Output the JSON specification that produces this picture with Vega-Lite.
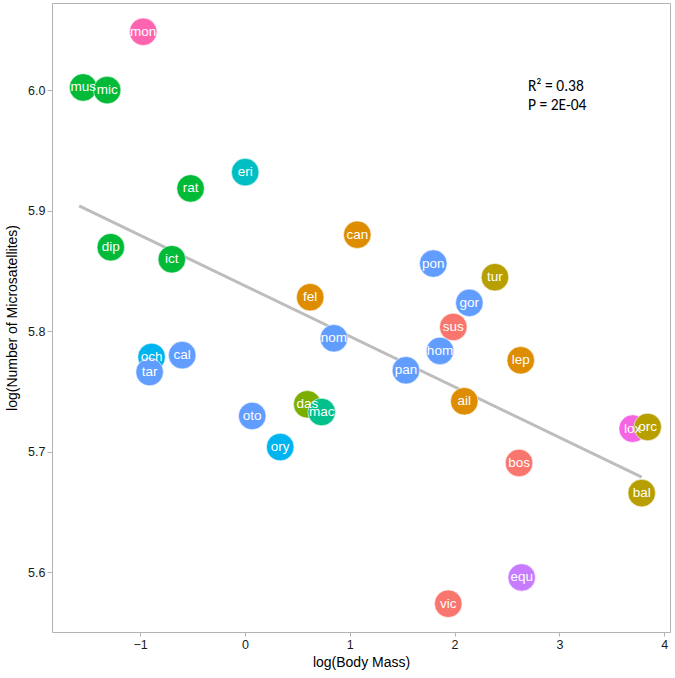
{
  "$schema": "https://vega.github.io/schema/vega-lite/v6.json",
  "width": 618,
  "height": 629,
  "autosize": {"type": "none"},
  "padding": {"left": 52, "top": 3, "right": 5, "bottom": 46},
  "background": "white",
  "config": {
    "view": {"stroke": "#b3b3b3", "strokeWidth": 1},
    "font": "Liberation Sans"
  },
  "datasets": {
    "species": [
      {"sp": "mon", "grp": "Monotremata", "mass": -0.970, "msat": 6.0484},
      {"sp": "mus", "grp": "Rodentia", "mass": -1.543, "msat": 6.0022},
      {"sp": "mic", "grp": "Rodentia", "mass": -1.314, "msat": 6.0000},
      {"sp": "rat", "grp": "Rodentia", "mass": -0.518, "msat": 5.9184},
      {"sp": "eri", "grp": "Eulipotyphla", "mass": 0.003, "msat": 5.9319},
      {"sp": "dip", "grp": "Rodentia", "mass": -1.279, "msat": 5.8696},
      {"sp": "ict", "grp": "Rodentia", "mass": -0.697, "msat": 5.8596},
      {"sp": "fel", "grp": "Carnivora", "mass": 0.623, "msat": 5.8281},
      {"sp": "nom", "grp": "Primates", "mass": 0.849, "msat": 5.7940},
      {"sp": "can", "grp": "Carnivora", "mass": 1.072, "msat": 5.8800},
      {"sp": "pon", "grp": "Primates", "mass": 1.797, "msat": 5.8560},
      {"sp": "tur", "grp": "Cetacea", "mass": 2.385, "msat": 5.8447},
      {"sp": "gor", "grp": "Primates", "mass": 2.141, "msat": 5.8234},
      {"sp": "sus", "grp": "Artiodactyla", "mass": 1.988, "msat": 5.8034},
      {"sp": "och", "grp": "Lagomorpha", "mass": -0.890, "msat": 5.7785},
      {"sp": "tar", "grp": "Primates", "mass": -0.909, "msat": 5.7660},
      {"sp": "cal", "grp": "Primates", "mass": -0.598, "msat": 5.7800},
      {"sp": "oto", "grp": "Primates", "mass": 0.070, "msat": 5.7295},
      {"sp": "ory", "grp": "Lagomorpha", "mass": 0.337, "msat": 5.7037},
      {"sp": "das", "grp": "Cingulata", "mass": 0.595, "msat": 5.7392},
      {"sp": "mac", "grp": "Diprotodontia", "mass": 0.732, "msat": 5.7328},
      {"sp": "hom", "grp": "Primates", "mass": 1.861, "msat": 5.7835},
      {"sp": "pan", "grp": "Primates", "mass": 1.536, "msat": 5.7674},
      {"sp": "lep", "grp": "Carnivora", "mass": 2.631, "msat": 5.7757},
      {"sp": "ail", "grp": "Carnivora", "mass": 2.093, "msat": 5.7417},
      {"sp": "lox", "grp": "Proboscidea", "mass": 3.699, "msat": 5.7190},
      {"sp": "orc", "grp": "Cetacea", "mass": 3.842, "msat": 5.7204},
      {"sp": "bos", "grp": "Artiodactyla", "mass": 2.615, "msat": 5.6905},
      {"sp": "bal", "grp": "Cetacea", "mass": 3.785, "msat": 5.6655},
      {"sp": "equ", "grp": "Perissodactyla", "mass": 2.640, "msat": 5.5955},
      {"sp": "vic", "grp": "Artiodactyla", "mass": 1.940, "msat": 5.5737}
    ],
    "fit": [
      {"mass": -1.581, "msat": 5.9039},
      {"mass": 3.785, "msat": 5.6788}
    ],
    "notes": [
      {"label": "R² = 0.38", "mass": 2.70, "msat": 6.0033},
      {"label": "P = 2E-04", "mass": 2.70, "msat": 5.9875}
    ]
  },
  "layer": [
    {
      "data": {"name": "fit"},
      "mark": {"type": "line", "color": "#bdbdbd", "strokeWidth": 3},
      "encoding": {
        "x": {"field": "mass", "type": "quantitative"},
        "y": {"field": "msat", "type": "quantitative"}
      }
    },
    {
      "data": {"name": "species"},
      "mark": {"type": "circle", "size": 760, "opacity": 1, "stroke": "white", "strokeWidth": 0.6},
      "encoding": {
        "x": {"field": "mass", "type": "quantitative"},
        "y": {"field": "msat", "type": "quantitative"},
        "color": {
          "field": "grp",
          "type": "nominal",
          "legend": null,
          "scale": {
            "domain": ["Artiodactyla", "Carnivora", "Cetacea", "Cingulata", "Rodentia", "Diprotodontia", "Eulipotyphla", "Lagomorpha", "Primates", "Perissodactyla", "Proboscidea", "Monotremata"],
            "range": ["#F8766D", "#DE8C00", "#B79F00", "#7CAE00", "#00BA38", "#00C08B", "#00BFC4", "#00B4F0", "#619CFF", "#C77CFF", "#F564E3", "#FF64B0"]
          }
        }
      }
    },
    {
      "data": {"name": "species"},
      "mark": {"type": "text", "color": "white", "fontSize": 13.5, "font": "Liberation Sans", "align": "center", "baseline": "middle"},
      "encoding": {
        "x": {"field": "mass", "type": "quantitative"},
        "y": {"field": "msat", "type": "quantitative"},
        "text": {"field": "sp"}
      }
    },
    {
      "data": {"name": "notes"},
      "mark": {"type": "text", "color": "black", "fontSize": 15.5, "font": "Carlito, Open Sans", "align": "left", "baseline": "middle"},
      "encoding": {
        "x": {"field": "mass", "type": "quantitative"},
        "y": {"field": "msat", "type": "quantitative"},
        "text": {"field": "label"}
      }
    }
  ],
  "resolve": {"scale": {"x": "shared", "y": "shared"}},
  "encoding": {
    "x": {
      "field": "mass",
      "type": "quantitative",
      "scale": {"domain": [-1.84, 4.055], "nice": false, "zero": false},
      "axis": {
        "title": "log(Body Mass)",
        "values": [-1, 0, 1, 2, 3, 4],
        "labelExpr": "replace(datum.label, '-', '−')",
        "grid": false,
        "domain": false,
        "tickColor": "#b3b3b3",
        "tickSize": 4,
        "labelFontSize": 12.5,
        "labelColor": "#1a1a1a",
        "labelPadding": 2,
        "titleFontSize": 14,
        "titleFontWeight": "normal",
        "titleColor": "#000000",
        "titlePadding": 5
      }
    },
    "y": {
      "field": "msat",
      "type": "quantitative",
      "scale": {"domain": [5.5502, 6.0723], "nice": false, "zero": false},
      "axis": {
        "title": "log(Number of Microsatellites)",
        "values": [5.6, 5.7, 5.8, 5.9, 6.0],
        "format": ".1f",
        "grid": false,
        "domain": false,
        "tickColor": "#b3b3b3",
        "tickSize": 5,
        "labelFontSize": 12.5,
        "labelColor": "#1a1a1a",
        "labelPadding": 2,
        "titleFontSize": 14,
        "titleFontWeight": "normal",
        "titleColor": "#000000",
        "titlePadding": 8
      }
    }
  }
}
